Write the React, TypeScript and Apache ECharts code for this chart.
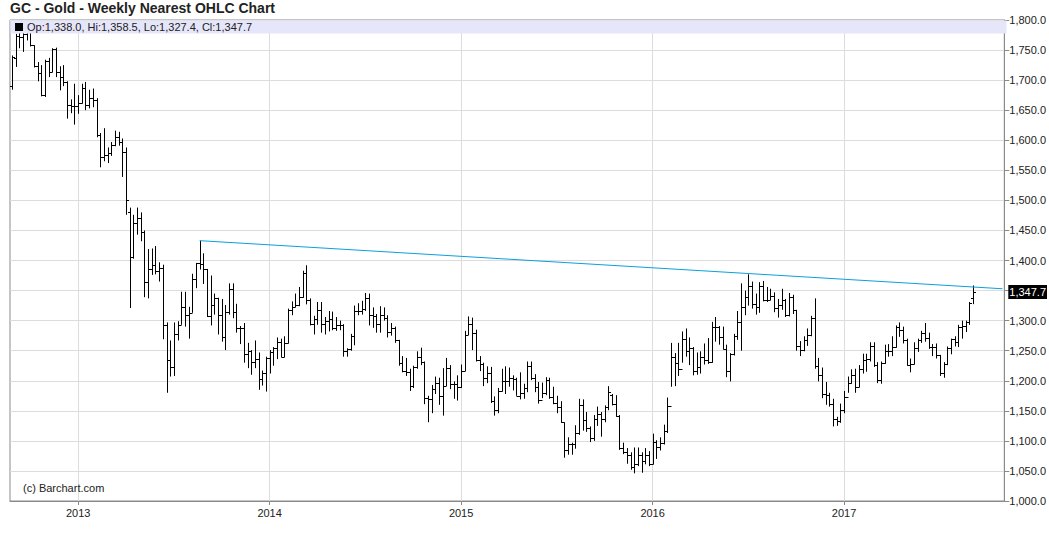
import { useEffect, useRef } from 'react';
import * as echarts from 'echarts';

// Weekly bars, first week starting 2012-09-03
const START_DATE = '2012-09-03';
const FUTURE_SLOTS = 8;

const OPEN = [
  1691, 1737, 1773, 1772, 1776, 1781, 1758, 1724, 1712, 1676, 1731, 1714, 1752, 1713, 1705, 1697, 1659, 1657,
  1657, 1662, 1687, 1658, 1670, 1667, 1609, 1572, 1576, 1578, 1592, 1606, 1597, 1580, 1480, 1405, 1462, 1470,
  1448, 1364, 1386, 1393, 1383, 1387, 1292, 1234, 1223, 1277, 1293, 1322, 1310, 1313, 1370, 1396, 1395, 1386,
  1308, 1326, 1338, 1310, 1272, 1315, 1352, 1315, 1288, 1287, 1244, 1250, 1231, 1236, 1203, 1213,
  1238, 1247, 1254, 1264, 1240, 1262, 1318, 1323, 1326, 1339, 1379, 1335, 1294, 1303, 1318, 1294, 1300, 1302,
  1287, 1293, 1292, 1250, 1253, 1274, 1316, 1316, 1320, 1337, 1310, 1307, 1295, 1310, 1305, 1281, 1287, 1267,
  1229, 1216, 1214, 1192, 1223, 1239, 1231, 1172, 1169, 1187, 1197, 1175, 1191, 1222, 1195, 1195,
  1189, 1216, 1276, 1294, 1279, 1234, 1228, 1205, 1213, 1167, 1152, 1183, 1199, 1200, 1204, 1203, 1175, 1179,
  1188, 1225, 1205, 1190, 1168, 1180, 1202, 1173, 1163, 1157, 1131, 1085, 1094, 1094, 1113, 1159, 1134, 1121,
  1104, 1137, 1145, 1137, 1156, 1176, 1162, 1141, 1088, 1081, 1076, 1057, 1061, 1076, 1066, 1076,
  1061, 1098, 1089, 1097, 1117, 1158, 1239, 1230, 1220, 1270, 1250, 1255, 1217, 1223, 1240, 1235, 1231, 1290,
  1290, 1272, 1253, 1216, 1244, 1275, 1298, 1322, 1340, 1358, 1327, 1322, 1357, 1335, 1335, 1341, 1321, 1326,
  1334, 1310, 1339, 1317, 1257, 1251, 1267, 1276, 1304, 1225, 1209, 1178, 1177, 1161, 1137, 1133,
  1152, 1173, 1196, 1210, 1190, 1220, 1234, 1236, 1258, 1226, 1202, 1230, 1249, 1250, 1256, 1289, 1285, 1268,
  1227, 1228, 1254, 1268, 1280, 1271, 1256, 1256, 1242, 1213, 1228, 1255, 1269, 1264, 1290, 1291, 1297, 1338.0,
];
const HIGH = [
  1741, 1777, 1790, 1787, 1798, 1789, 1758, 1730, 1725, 1734, 1737, 1753, 1754, 1723, 1725, 1698, 1668, 1694,
  1675, 1694, 1697, 1684, 1686, 1670, 1612, 1620, 1588, 1597, 1616, 1614, 1603, 1588, 1488, 1476, 1488, 1480,
  1450, 1419, 1420, 1424, 1397, 1393, 1297, 1267, 1297, 1299, 1348, 1348, 1323, 1378, 1396, 1433, 1412, 1386,
  1375, 1345, 1338, 1336, 1326, 1362, 1362, 1328, 1291, 1296, 1263, 1251, 1267, 1247, 1217, 1240,
  1251, 1256, 1272, 1270, 1274, 1320, 1332, 1345, 1356, 1383, 1392, 1337, 1308, 1331, 1331, 1306, 1316, 1315,
  1306, 1300, 1294, 1254, 1278, 1325, 1329, 1333, 1346, 1345, 1322, 1311, 1324, 1322, 1309, 1296, 1290, 1268,
  1241, 1238, 1220, 1225, 1249, 1255, 1232, 1175, 1193, 1207, 1205, 1221, 1238, 1226, 1199, 1209,
  1227, 1283, 1307, 1305, 1285, 1241, 1230, 1224, 1223, 1174, 1188, 1220, 1224, 1222, 1209, 1205, 1214, 1195,
  1232, 1232, 1211, 1198, 1197, 1206, 1205, 1190, 1175, 1166, 1131, 1106, 1097, 1126, 1170, 1169, 1148, 1124,
  1143, 1157, 1148, 1159, 1191, 1178, 1176, 1143, 1097, 1088, 1081, 1089, 1089, 1081, 1088, 1083,
  1112, 1101, 1106, 1127, 1172, 1263, 1246, 1263, 1282, 1287, 1272, 1256, 1247, 1249, 1262, 1271, 1298, 1306,
  1291, 1290, 1260, 1246, 1278, 1316, 1362, 1350, 1377, 1365, 1345, 1364, 1366, 1356, 1353, 1347, 1336, 1353,
  1336, 1346, 1343, 1318, 1266, 1274, 1287, 1308, 1337, 1238, 1222, 1198, 1180, 1170, 1140, 1162,
  1183, 1207, 1219, 1220, 1226, 1245, 1245, 1264, 1264, 1231, 1232, 1260, 1261, 1274, 1292, 1297, 1290, 1270,
  1237, 1264, 1270, 1283, 1296, 1280, 1261, 1262, 1243, 1231, 1257, 1270, 1274, 1293, 1300, 1300, 1331, 1358.5,
];
const LOW = [
  1684, 1722, 1753, 1747, 1766, 1756, 1721, 1698, 1673, 1672, 1705, 1713, 1705, 1683, 1690, 1636, 1645, 1626,
  1644, 1661, 1650, 1653, 1655, 1605, 1555, 1565, 1562, 1574, 1590, 1591, 1539, 1476, 1321, 1403, 1443, 1432,
  1339, 1337, 1376, 1377, 1365, 1269, 1180, 1207, 1208, 1267, 1293, 1290, 1270, 1313, 1354, 1385, 1361, 1306,
  1292, 1310, 1277, 1265, 1251, 1310, 1304, 1280, 1261, 1230, 1221, 1210, 1221, 1185, 1192, 1182,
  1212, 1225, 1236, 1239, 1239, 1262, 1309, 1322, 1324, 1338, 1327, 1292, 1277, 1293, 1280, 1277, 1282, 1284,
  1283, 1284, 1240, 1240, 1250, 1259, 1309, 1310, 1316, 1292, 1288, 1280, 1280, 1300, 1272, 1275, 1263, 1225,
  1214, 1208, 1183, 1188, 1220, 1226, 1161, 1131, 1146, 1178, 1160, 1142, 1191, 1186, 1170, 1167,
  1188, 1216, 1276, 1251, 1232, 1216, 1191, 1196, 1163, 1142, 1146, 1182, 1178, 1190, 1184, 1175, 1169, 1170,
  1181, 1201, 1181, 1162, 1171, 1176, 1170, 1161, 1146, 1130, 1072, 1077, 1077, 1087, 1110, 1117, 1115, 1098,
  1100, 1125, 1107, 1131, 1151, 1159, 1140, 1085, 1078, 1062, 1052, 1046, 1058, 1047, 1061, 1058,
  1061, 1070, 1084, 1094, 1113, 1190, 1191, 1208, 1230, 1240, 1226, 1209, 1210, 1212, 1227, 1228, 1230, 1265,
  1260, 1252, 1206, 1199, 1242, 1268, 1250, 1309, 1325, 1320, 1310, 1313, 1332, 1331, 1334, 1314, 1305, 1318,
  1306, 1307, 1311, 1250, 1241, 1249, 1258, 1274, 1220, 1199, 1171, 1160, 1157, 1124, 1125, 1130,
  1146, 1180, 1195, 1180, 1189, 1212, 1215, 1232, 1223, 1196, 1195, 1228, 1240, 1241, 1255, 1273, 1262, 1225,
  1214, 1227, 1248, 1263, 1265, 1253, 1241, 1237, 1208, 1205, 1226, 1244, 1257, 1256, 1270, 1281, 1293, 1327.4,
];
const CLOSE = [
  1738, 1773, 1772, 1776, 1781, 1758, 1724, 1712, 1676, 1731, 1714, 1752, 1713, 1705, 1697, 1659, 1657, 1657,
  1662, 1687, 1658, 1670, 1667, 1609, 1572, 1576, 1578, 1592, 1606, 1597, 1580, 1501, 1405, 1462, 1470, 1448,
  1364, 1386, 1393, 1383, 1387, 1292, 1234, 1223, 1277, 1293, 1322, 1310, 1313, 1370, 1396, 1395, 1386, 1308,
  1326, 1338, 1310, 1272, 1315, 1352, 1315, 1288, 1287, 1244, 1250, 1231, 1236, 1203, 1213, 1238,
  1247, 1254, 1264, 1240, 1262, 1318, 1323, 1326, 1339, 1379, 1335, 1294, 1303, 1318, 1294, 1300, 1302, 1287,
  1293, 1292, 1250, 1253, 1274, 1316, 1316, 1320, 1337, 1310, 1307, 1295, 1310, 1305, 1281, 1287, 1267, 1229,
  1216, 1214, 1192, 1223, 1239, 1231, 1172, 1169, 1187, 1197, 1175, 1191, 1222, 1195, 1195, 1189,
  1216, 1276, 1294, 1279, 1234, 1228, 1205, 1213, 1167, 1152, 1183, 1199, 1200, 1204, 1203, 1175, 1179, 1188,
  1225, 1205, 1190, 1168, 1180, 1202, 1173, 1163, 1157, 1131, 1085, 1094, 1094, 1113, 1159, 1134, 1121, 1104,
  1137, 1145, 1137, 1156, 1182, 1162, 1141, 1088, 1081, 1076, 1057, 1061, 1076, 1066, 1076, 1061,
  1098, 1089, 1097, 1117, 1158, 1239, 1230, 1220, 1270, 1250, 1255, 1217, 1223, 1240, 1235, 1231, 1290, 1290,
  1272, 1253, 1216, 1244, 1275, 1298, 1322, 1340, 1358, 1327, 1322, 1357, 1335, 1335, 1341, 1321, 1326, 1334,
  1310, 1339, 1317, 1257, 1251, 1267, 1276, 1304, 1225, 1209, 1178, 1177, 1161, 1137, 1133, 1152,
  1173, 1196, 1210, 1190, 1220, 1234, 1236, 1258, 1226, 1202, 1230, 1249, 1250, 1256, 1289, 1285, 1268, 1227,
  1228, 1254, 1268, 1280, 1271, 1256, 1256, 1242, 1213, 1228, 1255, 1269, 1264, 1290, 1291, 1297, 1330, 1347.7,
];

// Trend line drawn from the August 2013 high to the right edge
const TREND_START_DATE = '2013-08-26';
const TREND_START_VALUE = 1433;
const TREND_END_VALUE = 1353;

const Y_MIN = 1000;
const Y_MAX = 1800;
const Y_STEP = 50;

const TITLE = 'GC - Gold - Weekly Nearest OHLC Chart';
const WATERMARK = '(c) Barchart.com';
const FONT = '"Liberation Sans", Arial, Helvetica, sans-serif';

function fmt(v: number): string {
  const s = v.toFixed(1);
  const [a, b] = s.split('.');
  return a.replace(/\B(?=(\d{3})+(?!\d))/g, ',') + '.' + b;
}

function buildDates(count: number): string[] {
  const out: string[] = [];
  const t0 = Date.parse(START_DATE + 'T00:00:00Z');
  for (let i = 0; i < count; i++) {
    const d = new Date(t0 + i * 7 * 86400000);
    out.push(d.toISOString().slice(0, 10));
  }
  return out;
}

export default function App() {
  const ref = useRef<HTMLDivElement>(null);

  useEffect(() => {
    document.body.style.margin = '0';
    if (!ref.current) return;
    const chart = echarts.init(ref.current, undefined, { renderer: 'svg' });

    const n = CLOSE.length;
    const dates = buildDates(n + FUTURE_SLOTS);
    const isYearStart = (index: number) =>
      index > 0 && dates[index].slice(0, 4) !== dates[index - 1].slice(0, 4);

    const bars = OPEN.map((o, i) => [i, o, HIGH[i], LOW[i], CLOSE[i]]);
    const last = n - 1;
    const legendText = `Op:${fmt(OPEN[last])}, Hi:${fmt(HIGH[last])}, Lo:${fmt(LOW[last])}, Cl:${fmt(CLOSE[last])}`;
    const trendStartIndex = dates.indexOf(TREND_START_DATE);

    const barStyle = { stroke: '#000', lineWidth: 1 };

    chart.setOption({
      animation: false,
      backgroundColor: '#fff',
      grid: {
        left: 10,
        right: 42,
        top: 20,
        bottom: 41,
        show: true,
        borderColor: '#8a8a8a',
        borderWidth: 1,
        containLabel: false,
      },
      xAxis: {
        type: 'category',
        data: dates,
        boundaryGap: true,
        axisLine: { show: true, lineStyle: { color: '#8a8a8a' } },
        axisTick: {
          show: true,
          alignWithLabel: true,
          interval: (i: number) => isYearStart(i),
          length: 4,
          lineStyle: { color: '#8a8a8a' },
        },
        axisLabel: {
          interval: (i: number) => isYearStart(i),
          formatter: (v: string) => v.slice(0, 4),
          color: '#222',
          fontSize: 11,
          fontFamily: FONT,
          margin: 6,
        },
        splitLine: {
          show: true,
          interval: (i: number) => isYearStart(i),
          alignWithLabel: true,
          lineStyle: { color: '#dcdcdc' },
        },
      },
      yAxis: {
        type: 'value',
        position: 'right',
        min: Y_MIN,
        max: Y_MAX,
        interval: Y_STEP,
        axisLine: { show: true, lineStyle: { color: '#8a8a8a' } },
        axisTick: { show: true, length: 5, lineStyle: { color: '#8a8a8a' } },
        axisLabel: {
          formatter: (v: number) => fmt(v),
          color: '#222',
          fontSize: 11,
          fontFamily: FONT,
          margin: 5,
        },
        splitLine: { show: true, lineStyle: { color: '#dcdcdc' } },
      },
      series: [
        {
          type: 'custom',
          name: 'GC',
          data: bars,
          encode: { x: 0, y: [2, 3] },
          clip: true,
          renderItem: (_params: any, api: any) => {
            const i = api.value(0);
            const o = api.coord([i, api.value(1)]);
            const h = api.coord([i, api.value(2)]);
            const l = api.coord([i, api.value(3)]);
            const c = api.coord([i, api.value(4)]);
            const x = Math.round(o[0]) + 0.5;
            const oy = Math.round(o[1]) + 0.5;
            const cy = Math.round(c[1]) + 0.5;
            return {
              type: 'group',
              children: [
                { type: 'line', shape: { x1: x, y1: h[1], x2: x, y2: l[1] }, style: barStyle },
                { type: 'line', shape: { x1: x - 2.5, y1: oy, x2: x, y2: oy }, style: barStyle },
                { type: 'line', shape: { x1: x, y1: cy, x2: x + 2.5, y2: cy }, style: barStyle },
              ],
            };
          },
          z: 3,
        },
        {
          type: 'line',
          name: 'trend',
          clip: false,
          data: [
            [trendStartIndex, TREND_START_VALUE],
            [dates.length - 1, TREND_END_VALUE],
          ],
          symbol: 'none',
          lineStyle: { color: '#0aa0de', width: 1 },
          z: 4,
          silent: true,
          markLine: {
            silent: true,
            symbol: ['none', 'none'],
            lineStyle: { color: 'rgba(0,0,0,0)', width: 1 },
            label: {
              show: true,
              position: 'end',
              distance: 4,
              formatter: () => fmt(CLOSE[last]),
              color: '#fff',
              backgroundColor: '#000',
              fontSize: 11,
              fontFamily: FONT,
              padding: [2, 1, 1, 1],
              opacity: 1,
            },
            data: [{ yAxis: CLOSE[last] }],
          },
        },
      ],
      graphic: [
        {
          type: 'text',
          left: 10,
          top: 1,
          style: { text: TITLE, font: `bold 14px ${FONT}`, fill: '#222' },
        },
        {
          type: 'rect',
          shape: { x: 10.5, y: 20.5, width: 996, height: 13 },
          style: { fill: '#e6e6fa' },
          z: 100,
        },
        {
          type: 'rect',
          shape: { x: 15, y: 23, width: 8, height: 8 },
          style: { fill: '#000' },
          z: 101,
        },
        {
          type: 'text',
          x: 27,
          y: 27,
          style: {
            text: legendText,
            font: `11px ${FONT}`,
            fill: '#222',
            verticalAlign: 'middle',
          },
          z: 101,
        },
        {
          type: 'text',
          x: 23,
          y: 488,
          style: {
            text: WATERMARK,
            font: `11px ${FONT}`,
            fill: '#222',
            verticalAlign: 'middle',
          },
          z: 101,
        },
      ],
    });

    return () => chart.dispose();
  }, []);

  return <div ref={ref} style={{ width: 1049, height: 542 }} />;
}
